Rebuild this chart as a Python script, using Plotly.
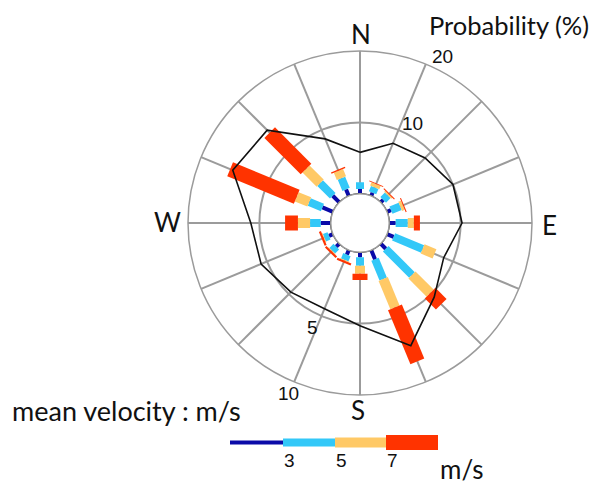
import plotly.graph_objects as go

# ---- wind rose data -------------------------------------------------------
directions = ["N", "NNE", "NE", "ENE", "E", "ESE", "SE", "SSE",
              "S", "SSW", "SW", "WSW", "W", "WNW", "NW", "NNW"]
bearing_deg = [0, 22.5, 45, 67.5, 90, 112.5, 135, 157.5,
               180, 202.5, 225, 247.5, 270, 292.5, 315, 337.5]

# probability of occurrence (%) per wind-speed class
p_below_3 = [0.65, 0.5, 0.5, 0.6, 0.9, 1.0, 1.0, 1.4,
             0.7, 0.7, 0.6, 0.6, 1.4, 1.6, 1.3, 1.0]
p_3_to_5 = [0.95, 0.8, 0.9, 1.4, 1.7, 4.4, 5.2, 3.0,
            1.2, 0.8, 0.8, 0.7, 1.5, 2.0, 2.5, 1.7]
p_5_to_7 = [0.0, 0.5, 0.2, 0.4, 0.85, 1.8, 3.6, 4.3,
            1.1, 0.1, 0.1, 0.1, 1.7, 1.9, 2.8, 1.1]
p_above_7 = [0.0, 0.1, 0.15, 0.15, 0.85, 0.0, 2.2, 8.2,
             0.9, 0.3, 0.3, 0.3, 1.8, 10.1, 7.2, 0.2]

# mean wind speed per direction (m/s)
mean_speed = [2.9, 4.0, 4.4, 5.0, 5.1, 4.3, 5.3, 7.25,
              5.15, 4.45, 4.8, 5.45, 5.6, 7.6, 7.15, 4.33]

prob_ticks = [10, 20]
speed_ticks = [5, 10]
legend_breaks = ["3", "5", "7"]

# ---- styling --------------------------------------------------------------
W, H = 596, 486
GRID = "#9b9b9b"
TXT = "Lato"
NUM = "Liberation Sans"
TXT_SIZE = 26
NUM_SIZE = 19

speed_classes = [
    (p_below_3, "#0a0aa8", 4),
    (p_3_to_5, "#33c8f8", 8),
    (p_5_to_7, "#ffc966", 10),
    (p_above_7, "#ff3300", 15),
]

# polar plot placement (pixels): centre and outer radius
CX, CY, R = 360, 223, 172


def px(x):
    return x / W


def py(y):
    return 1 - y / H


domain = dict(x=[px(CX - R), px(CX + R)], y=[py(CY + R), py(CY - R)])
HOLE = 0.17

fig = go.Figure()

# stacked bars: each class drawn as a thick radial segment per direction
base = [0.0] * len(directions)
for values, color, width in speed_classes:
    r, t = [], []
    for i, v in enumerate(values):
        if v > 0:
            r += [base[i], base[i] + v, None]
            t += [bearing_deg[i], bearing_deg[i], None]
        base[i] += v
    fig.add_trace(go.Scatterpolar(
        r=r, theta=t, mode="lines", subplot="polar",
        line=dict(color=color, width=width), connectgaps=False,
        hoverinfo="skip", showlegend=False))

# inner circle bounding the hole
ring_theta = [i * 2.5 for i in range(145)]
fig.add_trace(go.Scatterpolar(
    r=[0] * len(ring_theta), theta=ring_theta, mode="lines", subplot="polar",
    line=dict(color="#333333", width=1.5), hoverinfo="skip", showlegend=False))

# mean velocity polygon on its own radial scale
fig.add_trace(go.Scatterpolar(
    r=mean_speed + mean_speed[:1], theta=bearing_deg + bearing_deg[:1],
    mode="lines", subplot="polar2",
    line=dict(color="#111111", width=1.6), hoverinfo="skip", showlegend=False))

angular_common = dict(direction="clockwise", rotation=90, thetaunit="degrees")

fig.update_layout(
    width=W, height=H,
    margin=dict(l=0, r=0, t=0, b=0),
    paper_bgcolor="white", plot_bgcolor="white",
    showlegend=False,
    polar=dict(
        domain=domain, hole=HOLE, bgcolor="white",
        radialaxis=dict(range=[0, 20], tickvals=prob_ticks, showticklabels=False,
                        ticks="", showline=False, gridcolor=GRID, gridwidth=1.5),
        angularaxis=dict(**angular_common, tickmode="array", tickvals=bearing_deg,
                         showticklabels=False, ticks="", gridcolor=GRID,
                         gridwidth=1.5, showline=True, linecolor=GRID,
                         linewidth=1.5),
    ),
    polar2=dict(
        domain=domain, hole=HOLE, bgcolor="rgba(0,0,0,0)",
        radialaxis=dict(range=[0, 10], visible=False),
        angularaxis=dict(**angular_common, visible=False),
    ),
)

annotations = []


def label(text, x, y, size, family, xanchor="center", yanchor="middle"):
    annotations.append(dict(
        text=text, x=px(x), y=py(y), xref="paper", yref="paper",
        showarrow=False, xanchor=xanchor, yanchor=yanchor, borderpad=0,
        font=dict(family=family, size=size, color="#111111")))


# compass points
label("N", 361, 34, TXT_SIZE, TXT)
label("E", 549, 225, TXT_SIZE, TXT)
label("S", 358, 410, TXT_SIZE, TXT)
label("W", 167, 222, TXT_SIZE, TXT)

# probability scale labels
label(str(prob_ticks[0]), 412, 123, NUM_SIZE, NUM)
label(str(prob_ticks[1]), 442, 57, NUM_SIZE, NUM)
label("Probability (%)", 428, 25, 25.5, TXT, xanchor="left")

# mean velocity scale labels
label(str(speed_ticks[0]), 312, 327, NUM_SIZE, NUM)
label(str(speed_ticks[1]), 288, 393, NUM_SIZE, NUM)
label("mean velocity : m/s", 11, 410, 27, TXT, xanchor="left")

# speed-class key
shapes = []
key_x = [230, 283, 335, 386, 438]
KY = 442.5
for k, (_, color, width) in enumerate(speed_classes):
    x0, x1 = key_x[k], key_x[k + 1]
    shapes.append(dict(type="rect", xref="paper", yref="paper",
                       x0=px(x0), x1=px(x1),
                       y0=py(KY + width / 2), y1=py(KY - width / 2),
                       fillcolor=color, line=dict(width=0), layer="above"))
for k, txt in enumerate(legend_breaks):
    label(txt, key_x[k + 1], 460, NUM_SIZE, NUM, xanchor="left")
label("m/s", 439, 485.5, TXT_SIZE, TXT, xanchor="left", yanchor="bottom")

fig.update_layout(annotations=annotations, shapes=shapes)

fig.write_html("out.html")
